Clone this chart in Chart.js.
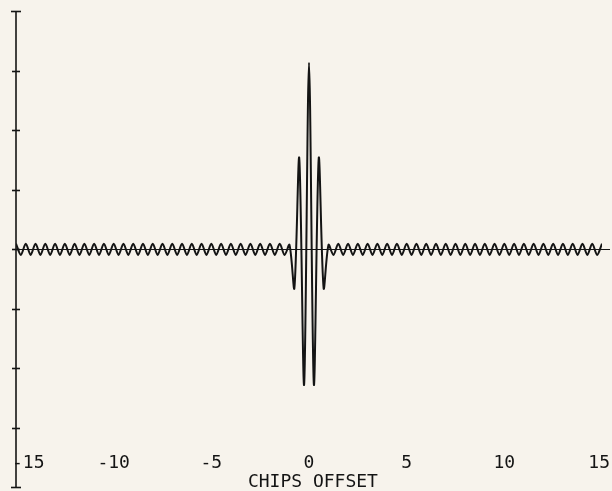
<!DOCTYPE html>
<html>
<head>
<meta charset="utf-8">
<script src="https://cdn.jsdelivr.net/npm/chart.js@4/dist/chart.umd.min.js"></script>
<style>
  html, body { margin: 0; padding: 0; background: #f7f3ec; }
  #wrap { width: 612px; height: 491px; }
</style>
</head>
<body>
<div id="wrap"><canvas id="chart" width="612" height="491"></canvas></div>
<script>
// chip offset (x) and correlation (y)
const offsets = [
  -15, -14.75, -14.5, -14.25, -14, -13.75, -13.5, -13.25,
  -13, -12.75, -12.5, -12.25, -12, -11.75, -11.5, -11.25,
  -11, -10.75, -10.5, -10.25, -10, -9.75, -9.5, -9.25,
  -9, -8.75, -8.5, -8.25, -8, -7.75, -7.5, -7.25,
  -7, -6.75, -6.5, -6.25, -6, -5.75, -5.5, -5.25,
  -5, -4.75, -4.5, -4.25, -4, -3.75, -3.5, -3.25,
  -3, -2.75, -2.5, -2.25, -2, -1.75, -1.5, -1.25,
  -1, -0.75, -0.5, -0.25, 0, 0.25, 0.5, 0.75, 1,
  1.25, 1.5, 1.75, 2, 2.25, 2.5, 2.75, 3,
  3.25, 3.5, 3.75, 4, 4.25, 4.5, 4.75, 5,
  5.25, 5.5, 5.75, 6, 6.25, 6.5, 6.75, 7,
  7.25, 7.5, 7.75, 8, 8.25, 8.5, 8.75, 9,
  9.25, 9.5, 9.75, 10, 10.25, 10.5, 10.75, 11,
  11.25, 11.5, 11.75, 12, 12.25, 12.5, 12.75, 13,
  13.25, 13.5, 13.75, 14, 14.25, 14.5, 14.75, 15
];

const corr = [
  0.09, -0.1, 0.09, -0.1, 0.09, -0.1, 0.09, -0.1,
  0.09, -0.1, 0.09, -0.1, 0.09, -0.1, 0.09, -0.1,
  0.09, -0.1, 0.09, -0.1, 0.09, -0.1, 0.09, -0.1,
  0.09, -0.1, 0.09, -0.1, 0.09, -0.1, 0.09, -0.1,
  0.09, -0.1, 0.09, -0.1, 0.09, -0.1, 0.09, -0.1,
  0.09, -0.1, 0.09, -0.1, 0.09, -0.1, 0.09, -0.1,
  0.09, -0.1, 0.09, -0.1, 0.09, -0.1, 0.09, -0.1,
  0.07, -0.66, 1.53, -2.28, 3.13, -2.28, 1.53, -0.66, 0.07,
  -0.1, 0.09, -0.1, 0.09, -0.1, 0.09, -0.1, 0.09,
  -0.1, 0.09, -0.1, 0.09, -0.1, 0.09, -0.1, 0.09,
  -0.1, 0.09, -0.1, 0.09, -0.1, 0.09, -0.1, 0.09,
  -0.1, 0.09, -0.1, 0.09, -0.1, 0.09, -0.1, 0.09,
  -0.1, 0.09, -0.1, 0.09, -0.1, 0.09, -0.1, 0.09,
  -0.1, 0.09, -0.1, 0.09, -0.1, 0.09, -0.1, 0.09,
  -0.1, 0.09, -0.1, 0.09, -0.1, 0.09, -0.1, 0.09
];

const xTicks = [-15, -10, -5, 0, 5, 10, 15];
const yTicks = [-4, -3, -2, -1, 0, 1, 2, 3, 4];
const xTitle = 'CHIPS OFFSET';

const INK = '#141414';
const PAPER = '#f7f3ec';
const FONT = '18px "DejaVu Sans Mono", "Liberation Mono", monospace';

// plotter-style axes: left axis with crossing ticks, zero line, labels inside
const plotterAxes = {
    id: 'plotterAxes',
    beforeDraw(chart) {
        const c = chart.ctx;
        c.save();
        c.fillStyle = PAPER;
        c.fillRect(0, 0, chart.width, chart.height);
        c.restore();
    },
    beforeDatasetsDraw(chart) {
        const c = chart.ctx;
        const x = chart.scales.x;
        const y = chart.scales.y;
        const left = x.getPixelForValue(-15);
        c.save();
        c.strokeStyle = INK;
        c.lineWidth = 1.6;

        // y axis line
        c.beginPath();
        c.moveTo(left, y.getPixelForValue(4));
        c.lineTo(left, y.getPixelForValue(-4));
        c.stroke();

        // y ticks
        yTicks.forEach(v => {
            const py = Math.round(y.getPixelForValue(v)) + 0.5;
            const half = (v === 4 || v === -4) ? 5 : 4;
            c.beginPath();
            c.moveTo(left - half, py);
            c.lineTo(left + half, py);
            c.stroke();
        });

        // zero line
        const py0 = Math.round(y.getPixelForValue(0)) + 0.5;
        c.lineWidth = 1.2;
        c.beginPath();
        c.moveTo(left, py0);
        c.lineTo(chart.width - 2, py0);
        c.stroke();

        // x tick labels
        c.fillStyle = INK;
        c.font = FONT;
        c.textAlign = 'center';
        c.textBaseline = 'middle';
        const labelY = y.getPixelForValue(-3.6);
        xTicks.forEach(v => {
            let px = x.getPixelForValue(v);
            const txt = String(v);
            const w = c.measureText(txt).width;
            if (px - w / 2 < left - 4) px = left - 4 + w / 2;
            if (px + w / 2 > chart.width - 2) px = chart.width - 2 - w / 2;
            c.fillText(txt, px, labelY);
        });

        // x title
        c.fillText(xTitle, x.getPixelForValue(0.2), y.getPixelForValue(-3.92));
        c.restore();
    }
};

const points = offsets.map((o, i) => ({ x: o, y: corr[i] }));

new Chart(document.getElementById('chart'), {
    type: 'line',
    data: {
        datasets: [{
            data: points,
            borderColor: INK,
            borderWidth: 2,
            pointRadius: 0,
            tension: 0.3,
            fill: false
        }]
    },
    options: {
        responsive: false,
        animation: false,
        layout: { padding: { left: 16, right: 10, top: 11, bottom: 4 } },
        plugins: {
            legend: { display: false },
            tooltip: { enabled: false }
        },
        scales: {
            x: { type: 'linear', min: -15, max: 15, display: false },
            y: { type: 'linear', min: -4, max: 4, display: false }
        }
    },
    plugins: [plotterAxes]
});
</script>
</body>
</html>
